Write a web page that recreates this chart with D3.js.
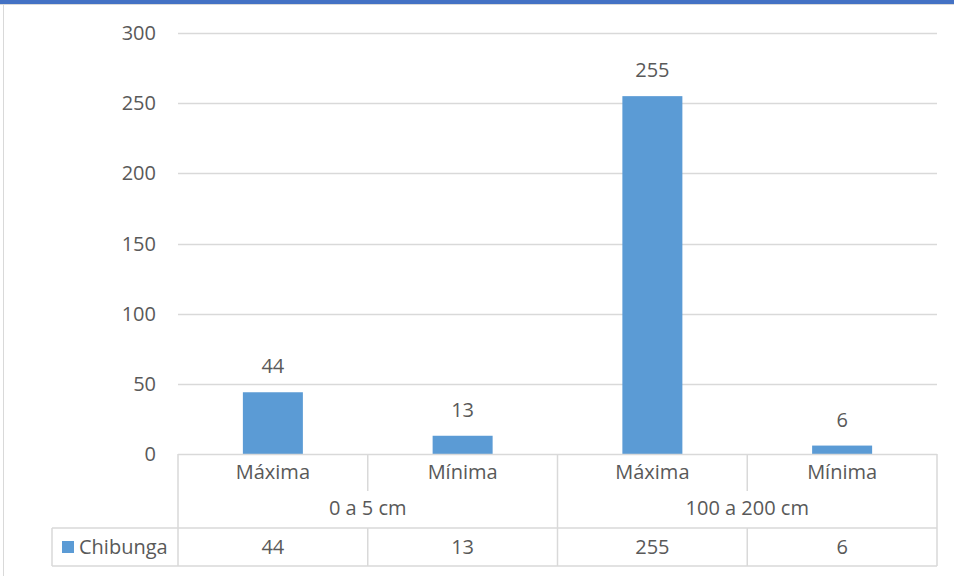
<!DOCTYPE html>
<html><head><meta charset="utf-8">
<script src="https://cdn.jsdelivr.net/npm/d3@7"></script>
<style>body{margin:0;background:#fff}svg{display:block}text{font-family:"Open Sans","Noto Sans",sans-serif;fill:#595959}</style>
</head><body>
<script>
const groups = ["0 a 5 cm", "100 a 200 cm"];
const subcats = ["Máxima", "Mínima", "Máxima", "Mínima"];
const groupOf = [0, 0, 1, 1];
const values = [44, 13, 255, 6];
const seriesName = "Chibunga";
const yTicks = [0, 50, 100, 150, 200, 250, 300];

(function(){
const W = 954, H = 576, FS = 20;
const svg = d3.select("body").append("svg").attr("width", W).attr("height", H);
svg.append("rect").attr("x",0).attr("y",0).attr("width",W).attr("height",4).attr("fill","#4472C4");
svg.append("line").attr("x1",0).attr("x2",W).attr("y1",4.5).attr("y2",4.5).attr("stroke","#D9D9D9");
svg.append("line").attr("x1",3.5).attr("x2",3.5).attr("y1",4).attr("y2",H).attr("stroke","#D9D9D9");

const pL = 178, pR = 937, pT = 33, pB = 454;
const x = d3.scaleBand().domain(d3.range(values.length)).range([pL, pR]).paddingInner(0).paddingOuter(0);
const y = d3.scaleLinear().domain([0, 300]).range([pB, pT]);

svg.append("g").selectAll("line").data(yTicks.filter(t=>t>0)).join("line")
  .attr("x1", pL).attr("x2", pR).attr("y1", d=>Math.round(y(d))+0.5).attr("y2", d=>Math.round(y(d))+0.5)
  .attr("stroke","#D9D9D9").attr("stroke-width",1.3);
svg.append("g").selectAll("text").data(yTicks).join("text")
  .attr("x", 156).attr("y", d=>y(d)).attr("dy","0.35em").attr("text-anchor","end")
  .attr("font-size",FS).text(d=>d);

const bw = 60;
svg.append("g").selectAll("rect").data(values).join("rect")
  .attr("x",(d,i)=>x(i)+x.bandwidth()/2-bw/2).attr("width",bw)
  .attr("y",d=>y(d)).attr("height",d=>pB-y(d)).attr("fill","#5B9BD5");
svg.append("g").selectAll("text").data(values).join("text")
  .attr("x",(d,i)=>x(i)+x.bandwidth()/2).attr("y",d=>y(d)-26).attr("dy","0.35em")
  .attr("text-anchor","middle").attr("font-size",FS).text(d=>d);

const g = svg.append("g").attr("stroke","#D9D9D9").attr("stroke-width",1.5).attr("fill","none");
const rowSub = 491, rowTop = 528, rowBot = 566, legL = 52;
g.append("line").attr("x1",pL).attr("x2",pR).attr("y1",pB+0.5).attr("y2",pB+0.5);
g.append("line").attr("x1",legL).attr("x2",pR).attr("y1",rowTop).attr("y2",rowTop);
g.append("line").attr("x1",legL).attr("x2",pR).attr("y1",rowBot).attr("y2",rowBot);
g.append("line").attr("x1",legL).attr("x2",legL).attr("y1",rowTop).attr("y2",rowBot);
values.forEach((v,i)=>{
  const xl = x(i);
  const full = i===0 || groupOf[i]!==groupOf[i-1];
  g.append("line").attr("x1",xl).attr("x2",xl).attr("y1",pB).attr("y2",full?rowBot:rowSub);
  if(!full) g.append("line").attr("x1",xl).attr("x2",xl).attr("y1",rowTop).attr("y2",rowBot);
});
g.append("line").attr("x1",pR).attr("x2",pR).attr("y1",pB).attr("y2",rowBot);

svg.append("g").selectAll("text").data(subcats).join("text")
  .attr("x",(d,i)=>x(i)+x.bandwidth()/2).attr("y",472).attr("dy","0.35em")
  .attr("text-anchor","middle").attr("font-size",FS).text(d=>d);
svg.append("g").selectAll("text").data(groups).join("text")
  .attr("x",(d,gi)=>{const idx=values.map((v,i)=>i).filter(i=>groupOf[i]===gi);return (x(idx[0])+x(idx[idx.length-1])+x.bandwidth())/2;})
  .attr("y",508).attr("dy","0.35em").attr("text-anchor","middle").attr("font-size",FS).text(d=>d);
svg.append("g").selectAll("text").data(values).join("text")
  .attr("x",(d,i)=>x(i)+x.bandwidth()/2).attr("y",547).attr("dy","0.35em")
  .attr("text-anchor","middle").attr("font-size",FS).text(d=>d);
svg.append("rect").attr("x",62).attr("y",541).attr("width",12).attr("height",12).attr("fill","#5B9BD5");
svg.append("text").attr("x",79).attr("y",547).attr("dy","0.35em").attr("font-size",FS).text(seriesName);
})();
</script>
</body></html>
